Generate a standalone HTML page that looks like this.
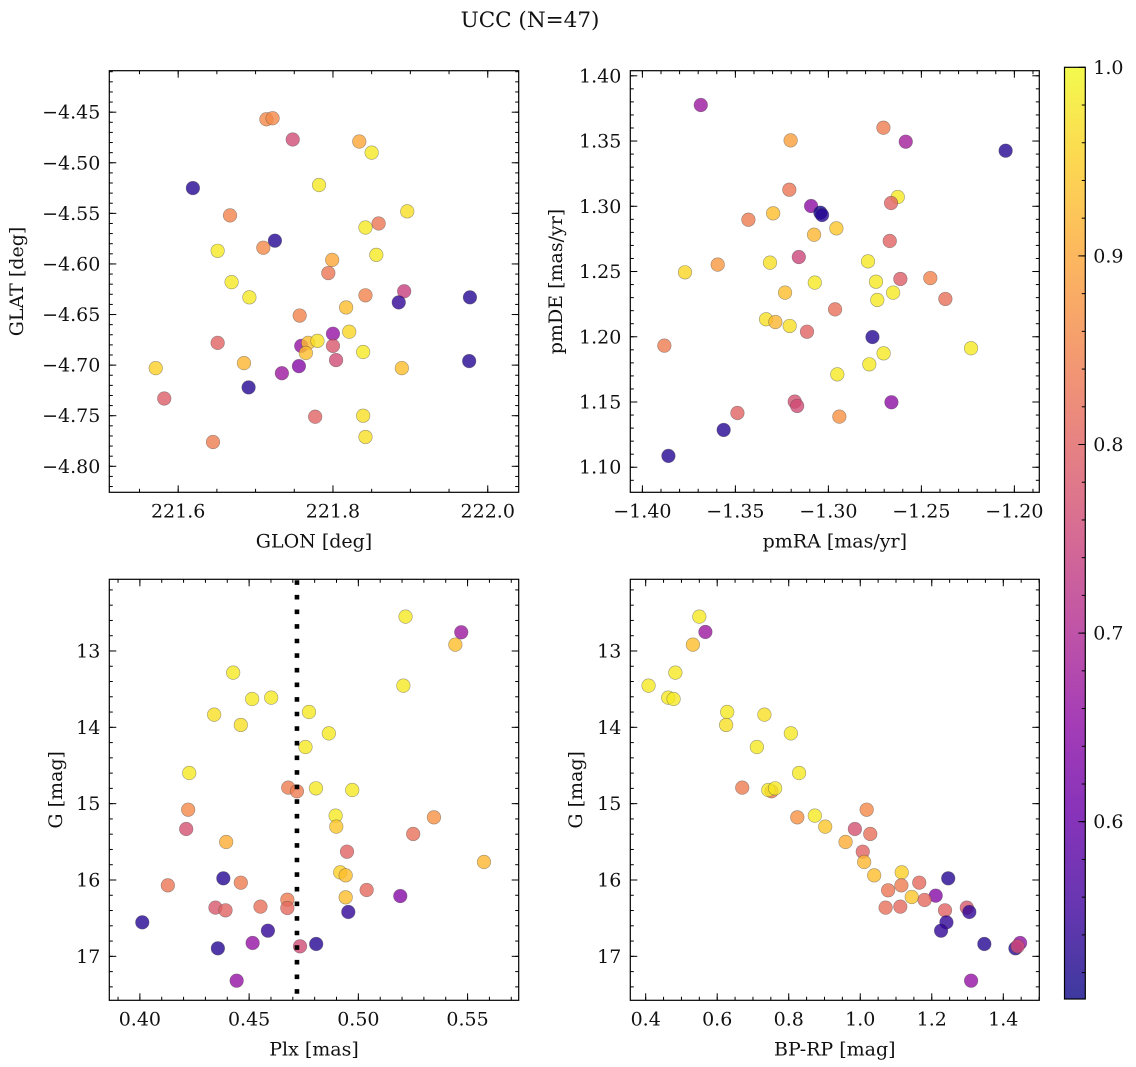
<!DOCTYPE html>
<html><head><meta charset="utf-8">
<style>
html,body{margin:0;padding:0;background:#fff;}
svg{display:block;font-family:"DejaVu Serif","Liberation Serif",serif;}
</style></head>
<body>
<svg id="fig" width="1136" height="1067" viewBox="0 0 1136 1067" xmlns="http://www.w3.org/2000/svg">
<text x="530" y="27" font-size="21.5" text-anchor="middle" fill="#111">UCC (N=47)</text>
</svg>
<script>
// ---- Panel 1: GLON / GLAT ----
const glon = [221.714,221.722,221.748,221.834,221.850,221.619,221.782,221.667,221.896,221.859,221.842,221.725,221.651,221.710,221.856,221.799,221.794,221.669,221.692,221.892,221.885,221.977,221.842,221.817,221.757,221.821,221.800,221.651,221.759,221.768,221.780,221.765,221.800,221.839,221.804,221.571,221.685,221.889,221.976,221.756,221.734,221.691,221.582,221.777,221.839,221.842,221.645];
const glat = [-4.457,-4.456,-4.477,-4.479,-4.490,-4.525,-4.522,-4.552,-4.548,-4.560,-4.564,-4.577,-4.587,-4.584,-4.591,-4.596,-4.609,-4.618,-4.633,-4.627,-4.638,-4.633,-4.631,-4.643,-4.651,-4.667,-4.669,-4.678,-4.681,-4.678,-4.676,-4.688,-4.681,-4.687,-4.695,-4.703,-4.698,-4.703,-4.696,-4.701,-4.708,-4.722,-4.733,-4.751,-4.750,-4.771,-4.776];
const prob1 = [0.86,0.86,0.76,0.90,0.98,0.53,0.98,0.85,0.97,0.83,0.98,0.53,0.98,0.86,0.98,0.90,0.83,0.98,0.98,0.74,0.54,0.53,0.85,0.93,0.85,0.96,0.66,0.80,0.66,0.93,0.97,0.93,0.78,0.98,0.76,0.95,0.92,0.93,0.53,0.64,0.67,0.53,0.79,0.80,0.97,0.97,0.84];
// ---- Panel 2: pmRA / pmDE ----
const pmra = [-1.3686,-1.2704,-1.3203,-1.2584,-1.2047,-1.3210,-1.2627,-1.2663,-1.3093,-1.3043,-1.3034,-1.3297,-1.3430,-1.2957,-1.3077,-1.2670,-1.3159,-1.3314,-1.3595,-1.3771,-1.2787,-1.3073,-1.2744,-1.2613,-1.2452,-1.3233,-1.2652,-1.2737,-1.2371,-1.2964,-1.3335,-1.3285,-1.3208,-1.3115,-1.2763,-1.3882,-1.2233,-1.2703,-1.2780,-1.2952,-1.3181,-1.3168,-1.2661,-1.3489,-1.2941,-1.3563,-1.3860];
const pmde = [1.3776,1.3602,1.3505,1.3495,1.3426,1.3127,1.3071,1.3025,1.3002,1.2951,1.2933,1.2946,1.2897,1.2831,1.2782,1.2734,1.2611,1.2568,1.2553,1.2494,1.2578,1.2415,1.2422,1.2443,1.2450,1.2338,1.2338,1.2282,1.2290,1.2210,1.2134,1.2113,1.2083,1.2039,1.1998,1.1932,1.1912,1.1873,1.1789,1.1712,1.1503,1.1470,1.1498,1.1416,1.1388,1.1286,1.1087];
const prob2 = [0.67,0.84,0.89,0.68,0.53,0.83,0.98,0.80,0.65,0.51,0.53,0.93,0.84,0.94,0.92,0.80,0.75,0.97,0.88,0.96,0.98,0.98,0.98,0.79,0.85,0.93,0.98,0.98,0.82,0.82,0.97,0.92,0.97,0.80,0.53,0.84,0.98,0.98,0.98,0.98,0.77,0.76,0.65,0.80,0.87,0.53,0.53];
// ---- Panel 3: Plx / G ----
const plx = [0.5216,0.5471,0.5444,0.4427,0.5206,0.4514,0.4601,0.4340,0.4774,0.4462,0.4865,0.4758,0.4226,0.4679,0.4719,0.4806,0.4972,0.4221,0.4896,0.5346,0.4212,0.4899,0.5251,0.4395,0.4948,0.5575,0.4917,0.4942,0.4382,0.4128,0.4462,0.5038,0.5192,0.4675,0.4942,0.4346,0.4392,0.4552,0.4675,0.4954,0.4011,0.4586,0.4357,0.4516,0.4733,0.4807,0.4443];
const gmag3 = [12.550,12.755,12.917,13.284,13.454,13.629,13.611,13.834,13.799,13.969,14.079,14.258,14.598,14.790,14.838,14.799,14.821,15.079,15.157,15.179,15.332,15.301,15.397,15.502,15.629,15.764,15.900,15.939,15.978,16.070,16.035,16.131,16.210,16.258,16.227,16.362,16.397,16.349,16.367,16.419,16.555,16.664,16.895,16.825,16.869,16.838,17.319];
const prob3 = [0.98,0.67,0.93,0.98,0.98,0.98,0.98,0.97,0.98,0.97,0.98,0.98,0.98,0.84,0.84,0.98,0.98,0.86,0.98,0.87,0.77,0.94,0.82,0.91,0.80,0.92,0.95,0.93,0.53,0.83,0.84,0.81,0.64,0.84,0.93,0.78,0.80,0.82,0.81,0.54,0.53,0.54,0.53,0.66,0.76,0.53,0.66];
const plxLine = [0.4719];
// ---- Panel 4: BP-RP / G ----
const bprp = [0.550,0.567,0.532,0.483,0.408,0.463,0.478,0.628,0.732,0.625,0.806,0.711,0.829,0.670,0.752,0.743,0.762,1.018,0.873,0.824,0.985,0.902,1.028,0.959,1.007,1.011,1.116,1.039,1.246,1.078,1.115,1.165,1.144,1.211,1.180,1.071,1.112,1.237,1.298,1.305,1.241,1.226,1.347,1.434,1.447,1.440,1.310];
const gmag4 = [12.550,12.751,12.917,13.284,13.454,13.611,13.629,13.799,13.834,13.969,14.079,14.258,14.598,14.790,14.838,14.821,14.799,15.079,15.157,15.179,15.332,15.301,15.397,15.502,15.629,15.764,15.900,15.939,15.978,16.135,16.070,16.035,16.223,16.205,16.262,16.362,16.349,16.397,16.362,16.419,16.555,16.664,16.838,16.895,16.825,16.869,17.319];
const prob4 = [0.98,0.67,0.93,0.98,0.98,0.98,0.98,0.98,0.97,0.97,0.98,0.98,0.98,0.84,0.84,0.98,0.98,0.86,0.98,0.87,0.77,0.94,0.82,0.91,0.80,0.92,0.95,0.93,0.53,0.83,0.84,0.81,0.94,0.64,0.81,0.82,0.81,0.80,0.78,0.54,0.54,0.54,0.53,0.53,0.66,0.76,0.66];
// ---- Colorbar ----
const cbTicks = [0.6,0.7,0.8,0.9,1.0];
const cbRange = [0.506,1.0];

const FS = 19;
const NS = "http://www.w3.org/2000/svg";
const svg = document.getElementById('fig');
function mk(tag, attrs, parent){ const e=document.createElementNS(NS,tag); for(const k in attrs) e.setAttribute(k,attrs[k]); (parent||svg).appendChild(e); return e; }

const plasma = [[13,8,135],[65,4,157],[106,0,168],[143,13,164],[177,42,144],[204,71,120],[225,100,98],[242,132,75],[252,166,54],[252,206,37],[240,249,33]];
function cmap(v){
  let t=(v-cbRange[0])/(cbRange[1]-cbRange[0]); t=Math.max(0,Math.min(1,t));
  const f=t*10, i=Math.min(9,Math.floor(f)), r=f-i;
  const a=plasma[i], b=plasma[i+1];
  return 'rgb('+a.map((c,j)=>Math.round(c+(b[j]-c)*r)).join(',')+')';
}
function fmt(v,d){ const s=Math.abs(v).toFixed(d); return (v<0?'\u2212':'')+s; }

function panel(cfg){
  const g = mk('g',{});
  
  
  const [x0,y0,x1,y1]=cfg.box;
  const sx=v=>x0+(v-cfg.xlim[0])/(cfg.xlim[1]-cfg.xlim[0])*(x1-x0);
  const sy=cfg.yinv ? (v=>y0+(v-cfg.ylim[0])/(cfg.ylim[1]-cfg.ylim[0])*(y1-y0))
                    : (v=>y1-(v-cfg.ylim[0])/(cfg.ylim[1]-cfg.ylim[0])*(y1-y0));
  const ylo=Math.min(...cfg.ylim), yhi=Math.max(...cfg.ylim);
  const tg=mk('g',{stroke:'#000','stroke-width':1},g);
  
  
  function ticksX(step,len){
    for(let k=Math.ceil(cfg.xlim[0]/step-1e-6);k<=Math.floor(cfg.xlim[1]/step+1e-6);k++){
      const x=sx(k*step);
      mk('line',{x1:x,x2:x,y1:y1,y2:y1-len},tg); mk('line',{x1:x,x2:x,y1:y0,y2:y0+len},tg);
    }
  }
  function ticksY(step,len){
    for(let k=Math.ceil(ylo/step-1e-6);k<=Math.floor(yhi/step+1e-6);k++){
      const y=sy(k*step);
      mk('line',{x1:x0,x2:x0+len,y1:y,y2:y},tg); mk('line',{x1:x1,x2:x1-len,y1:y,y2:y},tg);
    }
  }
  ticksX(cfg.xminor,3.5); ticksY(cfg.yminor,3.5);
  ticksX(cfg.xmajor,7); ticksY(cfg.ymajor,7);
  for(let k=Math.ceil(cfg.xlim[0]/cfg.xmajor-1e-6);k<=Math.floor(cfg.xlim[1]/cfg.xmajor+1e-6);k++){
    const v=k*cfg.xmajor;
    const t=mk('text',{x:sx(v),y:y1+25,'font-size':FS,'text-anchor':'middle',fill:'#111'},g);
    
    
    t.textContent=fmt(v,cfg.xdec);
  }
  for(let k=Math.ceil(ylo/cfg.ymajor-1e-6);k<=Math.floor(yhi/cfg.ymajor+1e-6);k++){
    const v=k*cfg.ymajor;
    const t=mk('text',{x:x0-9,y:sy(v)+6.5,'font-size':FS,'text-anchor':'end',fill:'#111'},g);
    
    
    t.textContent=fmt(v,cfg.ydec);
  }
  const xl=mk('text',{x:(x0+x1)/2,y:y1+55,'font-size':FS,'text-anchor':'middle',fill:'#111'},g);
  
  
  xl.textContent=cfg.xlabel;
  const yl=mk('text',{x:0,y:0,'font-size':FS,'text-anchor':'middle',fill:'#111',transform:'translate('+cfg.ylabx+','+((y0+y1)/2)+') rotate(-90)'},g);
  
  
  yl.textContent=cfg.ylabel;
  const pg=mk('g',{},g);
  
  
  cfg.xs.forEach((xv,i)=>{
    const c=mk('circle',{cx:sx(xv),cy:sy(cfg.ys[i]),r:6.8,fill:cmap(cfg.cs[i]),'fill-opacity':0.8,stroke:'#444','stroke-opacity':0.5,'stroke-width':0.6},pg);
    
    
  });
  if(cfg.vline){
    cfg.vline.forEach(v=>{
      const l=mk('line',{x1:sx(v),x2:sx(v),y1:y0+1,y2:y1,stroke:'#000','stroke-width':4.6,'stroke-dasharray':'4.6 10'},g);
      
      
    });
  }
  const fr=mk('rect',{x:x0,y:y0,width:x1-x0,height:y1-y0,fill:'none',stroke:'#000','stroke-width':1.2},g);
  
  
}

panel({name:'glon-glat-panel',box:[109.3,70.7,518.7,492.3],xlim:[221.511,222.040],ylim:[-4.8257,-4.409],
  xmajor:0.2,xminor:0.05,ymajor:0.05,yminor:0.01,xdec:1,ydec:2,xlabel:'GLON [deg]',ylabel:'GLAT [deg]',ylabx:23,
  xs:glon,ys:glat,cs:prob1});
panel({name:'pm-panel',box:[630.3,70.7,1039.3,492.3],xlim:[-1.4065,-1.1866],ylim:[1.0808,1.4039],
  xmajor:0.05,xminor:0.01,ymajor:0.05,yminor:0.01,xdec:2,ydec:2,xlabel:'pmRA [mas/yr]',ylabel:'pmDE [mas/yr]',ylabx:562,
  xs:pmra,ys:pmde,cs:prob2});
panel({name:'plx-g-panel',box:[109.3,579.3,518.7,1000.3],xlim:[0.386,0.5734],ylim:[12.061,17.576],yinv:true,
  xmajor:0.05,xminor:0.01,ymajor:1,yminor:0.2,xdec:2,ydec:0,xlabel:'Plx [mas]',ylabel:'G [mag]',ylabx:62,
  xs:plx,ys:gmag3,cs:prob3,vline:plxLine});
panel({name:'cmd-panel',box:[630.3,579.3,1039.3,1000.3],xlim:[0.357,1.5007],ylim:[12.061,17.576],yinv:true,
  xmajor:0.2,xminor:0.05,ymajor:1,yminor:0.2,xdec:1,ydec:0,xlabel:'BP-RP [mag]',ylabel:'G [mag]',ylabx:582,
  xs:bprp,ys:gmag4,cs:prob4});

(function(){
  const x0=1064.5,x1=1085.3,y0=67.3,y1=999;
  const cb=mk('g',{});
  
  
  const defs=mk('defs',{},cb);
  const lg=mk('linearGradient',{id:'cbg',x1:0,y1:1,x2:0,y2:0},defs);
  for(let i=0;i<=20;i++){
    const v=cbRange[0]+(cbRange[1]-cbRange[0])*i/20;
    mk('stop',{offset:(i/20),'stop-color':cmap(v)},lg);
  }
  mk('rect',{x:x0,y:y0,width:x1-x0,height:y1-y0,fill:'url(#cbg)','fill-opacity':0.8},cb);
  const sy=v=>y1-(v-cbRange[0])/(cbRange[1]-cbRange[0])*(y1-y0);
  for(let k=Math.ceil(cbRange[0]/0.02-1e-6);k<=Math.floor(cbRange[1]/0.02+1e-6);k++){
    const y=sy(k*0.02);
    mk('line',{x1:x1,x2:x1-3.5,y1:y,y2:y,stroke:'#000','stroke-width':1},cb);
  }
  cbTicks.forEach(v=>{
    const y=sy(v);
    mk('line',{x1:x1,x2:x1-7,y1:y,y2:y,stroke:'#000','stroke-width':1},cb);
    const t=mk('text',{x:x1+8,y:y+6.5,'font-size':FS,fill:'#111'},cb);
    
    
    t.textContent=v.toFixed(1);
  });
  mk('rect',{x:x0,y:y0,width:x1-x0,height:y1-y0,fill:'none',stroke:'#000','stroke-width':1.2},cb);
})();
</script>
</body></html>
